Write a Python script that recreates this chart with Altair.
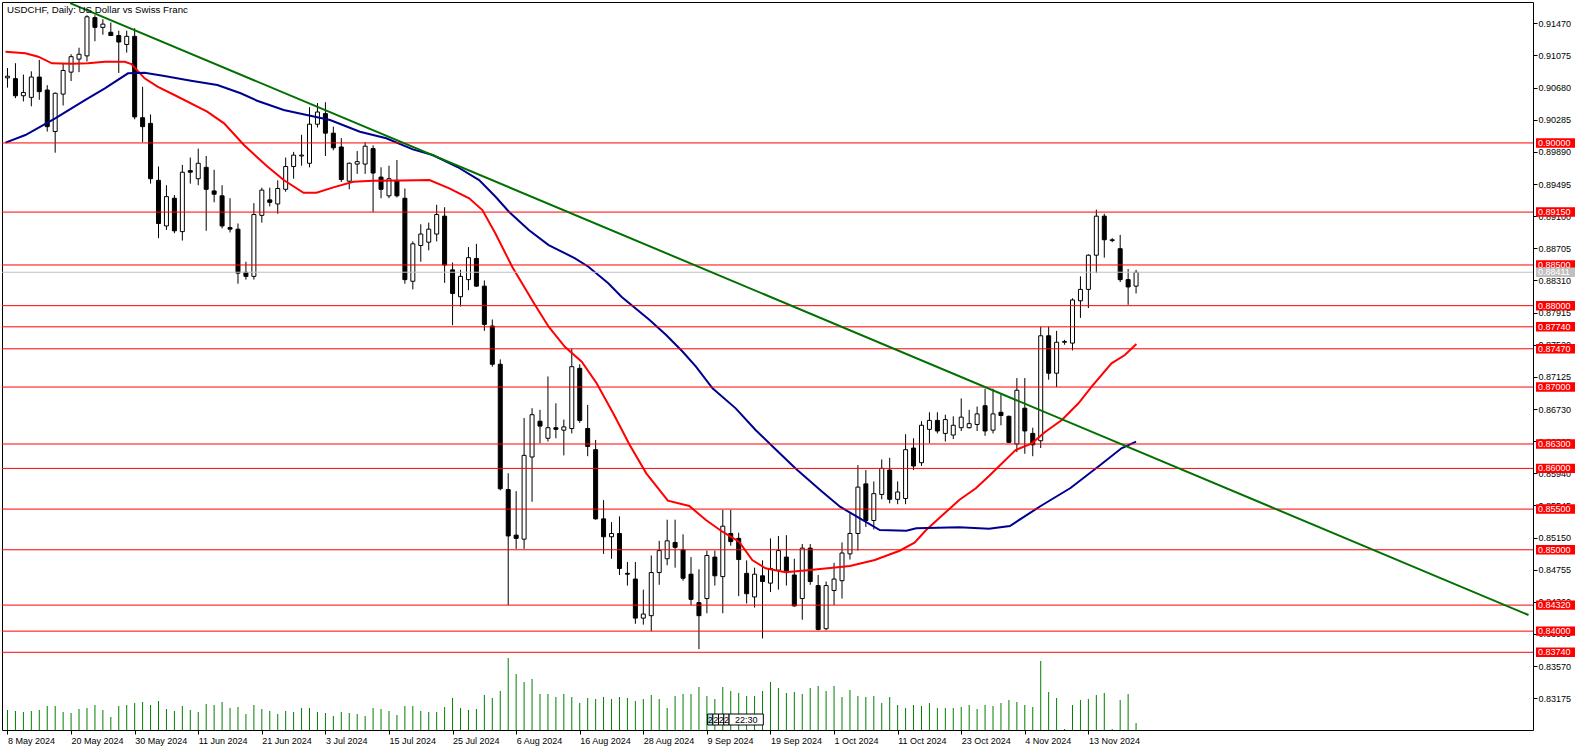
import json
import altair as alt
import pandas as pd

FONT = "Liberation Sans"

# ---- data ----
title_text = "USDCHF, Daily:  US Dollar vs Swiss Franc"

date_labels = ["8 May 2024", "20 May 2024", "30 May 2024", "11 Jun 2024", "21 Jun 2024",
               "3 Jul 2024", "15 Jul 2024", "25 Jul 2024", "6 Aug 2024", "16 Aug 2024",
               "28 Aug 2024", "9 Sep 2024", "19 Sep 2024", "1 Oct 2024", "11 Oct 2024",
               "23 Oct 2024", "4 Nov 2024", "13 Nov 2024"]

opens = [0.9080, 0.9079, 0.9058, 0.9056, 0.9081, 0.9065, 0.9014, 0.9060, 0.9087, 0.9103,
         0.9107, 0.9154, 0.9142, 0.9136, 0.9132, 0.9121, 0.9131, 0.9031, 0.9024, 0.8954,
         0.8898, 0.8932, 0.8891, 0.8966, 0.8956, 0.8970, 0.8941, 0.8935, 0.8896, 0.8894,
         0.8841, 0.8836, 0.8911, 0.8930, 0.8925, 0.8943, 0.8971, 0.8984, 0.8975, 0.9023,
         0.9036, 0.9012, 0.8995, 0.8953, 0.8974, 0.8974, 0.8993, 0.8958, 0.8935, 0.8954,
         0.8932, 0.8830, 0.8874, 0.8878, 0.8888, 0.8910, 0.8844, 0.8811, 0.8832, 0.8858,
         0.8824, 0.8775, 0.8728, 0.8574, 0.8518, 0.8513, 0.8614, 0.8658, 0.8637, 0.8650,
         0.8647, 0.8649, 0.8723, 0.8649, 0.8623, 0.8538, 0.8516, 0.8520, 0.8471, 0.8464,
         0.8416, 0.8419, 0.8472, 0.8489, 0.8509, 0.8500, 0.8470, 0.8435, 0.8440, 0.8491,
         0.8467, 0.8520, 0.8514, 0.8471, 0.8442, 0.8468, 0.8459, 0.8475, 0.8491, 0.8469,
         0.8440, 0.8502, 0.8456, 0.8403, 0.8450, 0.8462, 0.8495, 0.8520, 0.8581, 0.8536,
         0.8568, 0.8598, 0.8562, 0.8563, 0.8625, 0.8607, 0.8648, 0.8659, 0.8643, 0.8641,
         0.8650, 0.8650, 0.8654, 0.8677, 0.8647, 0.8669, 0.8664, 0.8630, 0.8674, 0.8643,
         0.8634, 0.8763, 0.8717, 0.8755, 0.8754, 0.8806, 0.8820, 0.8862, 0.8910, 0.8880,
         0.8870, 0.8832, 0.8824]

highs = [0.9092, 0.9098, 0.9084, 0.9088, 0.9102, 0.9071, 0.9062, 0.9097, 0.9109, 0.9117,
         0.9157, 0.9157, 0.9152, 0.9148, 0.9138, 0.9138, 0.9141, 0.9069, 0.9035, 0.8971,
         0.8948, 0.8936, 0.8973, 0.8982, 0.8993, 0.8984, 0.8967, 0.8948, 0.8932, 0.8901,
         0.8854, 0.8926, 0.8945, 0.8945, 0.8954, 0.8982, 0.8989, 0.9010, 0.9044, 0.9049,
         0.9050, 0.9020, 0.9006, 0.8976, 0.8990, 0.9001, 0.8997, 0.8970, 0.8972, 0.8979,
         0.8944, 0.8879, 0.8900, 0.8902, 0.8924, 0.8921, 0.8853, 0.8844, 0.8872, 0.8876,
         0.8831, 0.8783, 0.8734, 0.8594, 0.8572, 0.8662, 0.8674, 0.8672, 0.8713, 0.8680,
         0.8660, 0.8747, 0.8728, 0.8678, 0.8635, 0.8561, 0.8534, 0.8541, 0.8485, 0.8485,
         0.8451, 0.8493, 0.8511, 0.8537, 0.8537, 0.8519, 0.8491, 0.8476, 0.8499, 0.8499,
         0.8549, 0.8549, 0.8521, 0.8487, 0.8478, 0.8487, 0.8514, 0.8517, 0.8518, 0.8489,
         0.8507, 0.8507, 0.8469, 0.8461, 0.8484, 0.8509, 0.8545, 0.8604, 0.8598, 0.8584,
         0.8611, 0.8613, 0.8584, 0.8642, 0.8637, 0.8658, 0.8669, 0.8669, 0.8666, 0.8664,
         0.8686, 0.8672, 0.8676, 0.8698, 0.8698, 0.8691, 0.8665, 0.8711, 0.8711, 0.8650,
         0.8774, 0.8774, 0.8769, 0.8758, 0.8809, 0.8836, 0.8863, 0.8918, 0.8913, 0.8883,
         0.8887, 0.8845, 0.8844]

lows = [0.9068, 0.9055, 0.9051, 0.9045, 0.9053, 0.9014, 0.8988, 0.9046, 0.9076, 0.9087,
        0.9100, 0.9125, 0.9133, 0.9132, 0.9086, 0.9111, 0.9029, 0.9001, 0.8950, 0.8883,
        0.8893, 0.8889, 0.8880, 0.8950, 0.8948, 0.8892, 0.8927, 0.8895, 0.8890, 0.8827,
        0.8832, 0.8832, 0.8902, 0.8922, 0.8913, 0.8940, 0.8956, 0.8972, 0.8970, 0.9019,
        0.8984, 0.8991, 0.8952, 0.8943, 0.8962, 0.8962, 0.8915, 0.8932, 0.8932, 0.8933,
        0.8827, 0.8820, 0.8854, 0.8868, 0.8879, 0.8828, 0.8776, 0.8799, 0.8819, 0.8823,
        0.8769, 0.8725, 0.8573, 0.8432, 0.8501, 0.8501, 0.8559, 0.8631, 0.8633, 0.8637,
        0.8616, 0.8643, 0.8656, 0.8615, 0.8537, 0.8495, 0.8489, 0.8469, 0.8456, 0.8409,
        0.8408, 0.8400, 0.8457, 0.8481, 0.8478, 0.8462, 0.8432, 0.8378, 0.8422, 0.8456,
        0.8422, 0.8505, 0.8443, 0.8434, 0.8429, 0.8391, 0.8448, 0.8451, 0.8456, 0.8430,
        0.8414, 0.8457, 0.8401, 0.8401, 0.8432, 0.8440, 0.8488, 0.8499, 0.8528, 0.8525,
        0.8562, 0.8557, 0.8556, 0.8556, 0.8598, 0.8603, 0.8631, 0.8643, 0.8633, 0.8636,
        0.8646, 0.8649, 0.8646, 0.8640, 0.8643, 0.8653, 0.8631, 0.8620, 0.8618, 0.8615,
        0.8625, 0.8709, 0.8700, 0.8752, 0.8745, 0.8785, 0.8797, 0.8840, 0.8859, 0.8878,
        0.8829, 0.8801, 0.8815]

closes = [0.9082, 0.9058, 0.9062, 0.9081, 0.9063, 0.9020, 0.9061, 0.9089, 0.9106, 0.9109,
          0.9155, 0.9142, 0.9146, 0.9132, 0.9124, 0.9131, 0.9032, 0.9020, 0.8956, 0.8901,
          0.8934, 0.8892, 0.8964, 0.8964, 0.8975, 0.8943, 0.8937, 0.8898, 0.8894, 0.8840,
          0.8836, 0.8912, 0.8942, 0.8927, 0.8944, 0.8971, 0.8985, 0.8985, 0.9023, 0.9038,
          0.9012, 0.8994, 0.8955, 0.8975, 0.8977, 0.8996, 0.8963, 0.8943, 0.8956, 0.8935,
          0.8832, 0.8876, 0.8888, 0.8894, 0.8912, 0.8850, 0.8815, 0.8836, 0.8859, 0.8824,
          0.8777, 0.8728, 0.8575, 0.8517, 0.8514, 0.8616, 0.8666, 0.8652, 0.8650, 0.8648,
          0.8651, 0.8725, 0.8659, 0.8627, 0.8538, 0.8516, 0.8520, 0.8477, 0.8470, 0.8416,
          0.8421, 0.8472, 0.8499, 0.8511, 0.8503, 0.8465, 0.8439, 0.8419, 0.8493, 0.8468,
          0.8529, 0.8510, 0.8488, 0.8446, 0.8470, 0.8461, 0.8477, 0.8499, 0.8474, 0.8431,
          0.8502, 0.8461, 0.8402, 0.8456, 0.8464, 0.8496, 0.8520, 0.8577, 0.8536, 0.8569,
          0.8600, 0.8562, 0.8571, 0.8623, 0.8603, 0.8653, 0.8659, 0.8646, 0.8660, 0.8653,
          0.8663, 0.8655, 0.8667, 0.8646, 0.8667, 0.8665, 0.8632, 0.8696, 0.8646, 0.8629,
          0.8763, 0.8717, 0.8755, 0.8756, 0.8807, 0.8820, 0.8862, 0.8910, 0.8881, 0.8881,
          0.8832, 0.8823, 0.8841]

# tick volume, thousands
volumes = [20, 19, 18, 19, 20, 24, 24, 18, 17, 21,
           22, 25, 20, 13, 24, 25, 27, 28, 25, 29,
           21, 19, 24, 20, 18, 26, 25, 28, 22, 23,
           16, 25, 21, 19, 16, 19, 18, 22, 22, 18,
           17, 14, 18, 17, 16, 14, 22, 21, 19, 15,
           24, 24, 19, 18, 18, 23, 32, 22, 20, 21,
           35, 32, 39, 72, 56, 48, 51, 36, 36, 33,
           36, 33, 27, 32, 31, 33, 31, 33, 32, 29,
           31, 35, 31, 22, 34, 36, 36, 43, 34, 31,
           43, 39, 37, 34, 34, 39, 48, 42, 37, 38,
           36, 42, 44, 39, 44, 33, 40, 34, 33, 34,
           27, 33, 25, 22, 25, 24, 27, 22, 22, 22,
           23, 25, 21, 25, 24, 27, 30, 28, 25, 23,
           69, 38, 32, 1, 25, 30, 31, 35, 37, 1,
           30, 36, 7]

# moving averages (bar index, price)
red_ma_idx = [-0.25, 2.25, 3.875, 5.59, 8.09, 10.125, 12.25, 14.75, 15.59, 17.25, 18.875, 21.0,
              25.125, 27.25, 29.75, 32.625, 34.75, 37.25, 38.875, 41.0, 43.5, 46.0, 49.75, 53.09,
              55.59, 58.09, 59.75, 61.375, 63.5, 66.375, 68.09, 70.125, 72.25, 74.125, 76.21,
              78.29, 80.375, 83.09, 85.79, 87.875, 89.96, 92.04, 93.71, 95.375, 97.875, 101.0,
              103.5, 106.0, 109.125, 112.25, 114.125, 115.59, 117.66, 119.75, 121.84, 123.5,
              126.84, 128.875, 130.59, 132.66, 134.75, 136.41, 138.91, 140.59, 142.04]
red_ma_val = [0.91121, 0.91101, 0.91060, 0.90978, 0.90973, 0.90978, 0.90998, 0.90998, 0.90970,
              0.90794, 0.90691, 0.90589, 0.90384, 0.90241, 0.89974, 0.89716, 0.89544, 0.89388,
              0.89388, 0.89454, 0.89523, 0.89536, 0.89538, 0.89544, 0.89442, 0.89319, 0.89175,
              0.88889, 0.88479, 0.88008, 0.87741, 0.87495, 0.87311, 0.87046, 0.86677, 0.86287,
              0.85939, 0.85603, 0.85538, 0.85365, 0.85222, 0.85099, 0.84874, 0.84772, 0.84723,
              0.84751, 0.84776, 0.84800, 0.84874, 0.84988, 0.85087, 0.85243, 0.85427, 0.85611,
              0.85755, 0.85906, 0.86226, 0.86308, 0.86451, 0.86595, 0.86800, 0.87004, 0.87291,
              0.87393, 0.87529]

blue_ma_idx = [-0.25, 2.25, 6.0, 9.75, 12.25, 15.16, 17.25, 19.75, 23.09, 26.41, 29.34, 31.41,
               34.75, 37.66, 40.59, 44.34, 47.66, 51.0, 53.5, 56.625, 59.34, 61.41, 63.09, 65.59,
               68.09, 71.41, 73.09, 75.59, 77.25, 80.79, 82.875, 84.96, 86.625, 88.71, 91.625,
               94.125, 96.21, 99.125, 102.25, 104.75, 107.25, 109.75, 113.09, 114.34, 119.75,
               123.5, 126.125, 130.0, 133.75, 137.5, 140.16, 142.0]
blue_ma_val = [0.90003, 0.90097, 0.90302, 0.90527, 0.90671, 0.90855, 0.90863, 0.90822, 0.90765,
               0.90712, 0.90610, 0.90519, 0.90404, 0.90343, 0.90282, 0.90138, 0.90057, 0.89921,
               0.89851, 0.89704, 0.89544, 0.89339, 0.89155, 0.88930, 0.88745, 0.88582, 0.88479,
               0.88275, 0.88110, 0.87824, 0.87639, 0.87434, 0.87250, 0.86984, 0.86738, 0.86472,
               0.86275, 0.86001, 0.85734, 0.85529, 0.85386, 0.85243, 0.85234, 0.85264, 0.85276,
               0.85259, 0.85292, 0.85538, 0.85759, 0.86041, 0.86247, 0.86328]

trend_idx = [7.875, 191.375]
trend_val = [0.91719, 0.84198]

level_prices = [0.90000, 0.89150, 0.88500, 0.88000, 0.87740, 0.87470, 0.87000,
                0.86300, 0.86000, 0.85500, 0.85000, 0.84320, 0.84000, 0.83740]
bid_price = 0.88411

y_ticks = [0.91470, 0.91075, 0.90680, 0.90285, 0.89890, 0.89495, 0.89100, 0.88705,
           0.88310, 0.87915, 0.87520, 0.87125, 0.86730, 0.86335, 0.85940, 0.85545,
           0.85150, 0.84755, 0.84360, 0.83965, 0.83570, 0.83175]

sep_text = ["2", "2", "2", "2", "22:30"]
sep_from = [88.09, 88.75, 89.46, 90.125, 90.79]
sep_to = [88.75, 89.46, 90.125, 90.79, 95.1]
sep_fill = ["#B0E8F0", "white", "white", "white", "white"]

# ---- frames ----
n = len(opens)
df = pd.DataFrame({"i": list(range(n)), "o": opens, "h": highs, "l": lows,
                   "c": closes, "v": volumes})
df["top"] = df[["o", "c"]].max(axis=1)
df["bot"] = df[["o", "c"]].min(axis=1)
df["bull"] = df["c"] >= df["o"]

red_df = pd.DataFrame({"i": red_ma_idx, "p": red_ma_val})
blue_df = pd.DataFrame({"i": blue_ma_idx, "p": blue_ma_val})
trend_df = pd.DataFrame({"i": trend_idx, "p": trend_val})

lab_rows = [{"p": p, "t": f"{p:.5f}", "col": "#FF0000"} for p in level_prices]
lab_rows.append({"p": bid_price, "t": f"{bid_price:.5f}", "col": "#C0C0C0"})
lab_df = pd.DataFrame(lab_rows)
half_h = 0.00058
lab_df["hi"] = lab_df["p"] + half_h
lab_df["lo"] = lab_df["p"] - half_h

sep_df = pd.DataFrame({"a": sep_from, "b": sep_to, "t": sep_text, "f": sep_fill})
sep_df["m"] = (sep_df["a"] + sep_df["b"]) / 2

xs = alt.Scale(domain=[-0.0625, 191.3125], nice=False, zero=False)
ys = alt.Scale(domain=[0.82785, 0.91732], nice=False, zero=False)

x_axis = alt.Axis(values=list(range(0, 8 * len(date_labels), 8)),
                  labelExpr=json.dumps(date_labels) + "[round(datum.value/8)]",
                  labelAlign="left", labelBaseline="top", labelPadding=2,
                  tickSize=4, tickColor="black", domain=False, grid=False,
                  labelFont=FONT, labelFontSize=9, labelColor="black",
                  labelFlush=False, labelOverlap=False, title=None)
y_axis = alt.Axis(orient="right", values=y_ticks, format=".5f", tickSize=4,
                  tickColor="black", domain=False, grid=False, labelPadding=1,
                  labelFont=FONT, labelFontSize=9, labelColor="black",
                  labelFlush=False, labelOverlap=False, title=None)


def XQ(field):
    return alt.X(field, scale=xs, axis=x_axis, title=None)


def YQ(field):
    return alt.Y(field, scale=ys, axis=y_axis, title=None)


vol = alt.Chart(df).mark_rule(color="#008000", strokeWidth=1).encode(
    x=XQ("i:Q"),
    y=alt.Y("v:Q", scale=alt.Scale(domain=[0, 728], nice=False, zero=True), axis=None),
    y2=alt.datum(0),
)

wick = alt.Chart(df).mark_rule(color="black", strokeWidth=1).encode(
    x=XQ("i:Q"), y=YQ("l:Q"), y2="h:Q")

body = alt.Chart(df).mark_bar(size=4, stroke="black", strokeWidth=1).encode(
    x=XQ("i:Q"), y=YQ("bot:Q"), y2="top:Q",
    fill=alt.condition("datum.bull", alt.value("white"), alt.value("black")))

red_line = alt.Chart(red_df).mark_line(color="#FF0000", strokeWidth=2, clip=True).encode(
    x=XQ("i:Q"), y=YQ("p:Q"), order="i:Q")
blue_line = alt.Chart(blue_df).mark_line(color="#000090", strokeWidth=2, clip=True).encode(
    x=XQ("i:Q"), y=YQ("p:Q"), order="i:Q")

levels = alt.Chart(pd.DataFrame({"p": level_prices})).mark_rule(
    color="#FF0000", strokeWidth=1).encode(y=YQ("p:Q"))
bid = alt.Chart(pd.DataFrame({"p": [bid_price]})).mark_rule(
    color="#C0C0C0", strokeWidth=1).encode(y=YQ("p:Q"))

trend = alt.Chart(trend_df).mark_line(color="#007000", strokeWidth=2, clip=True).encode(
    x=XQ("i:Q"), y=YQ("p:Q"))

lab_box = alt.Chart(lab_df).mark_rect().encode(
    x=alt.value(1534), x2=alt.value(1573),
    y=YQ("hi:Q"), y2="lo:Q",
    color=alt.Color("col:N", scale=None))
lab_txt = alt.Chart(lab_df).mark_text(align="left", baseline="middle", color="white",
                                       font=FONT, fontSize=9).encode(
    x=alt.value(1536), y=YQ("p:Q"), text="t:N")

sep_box = alt.Chart(sep_df).mark_rect(stroke="black", strokeWidth=1).encode(
    x=XQ("a:Q"), x2="b:Q",
    y=alt.value(712), y2=alt.value(723), color=alt.Color("f:N", scale=None))
sep_txt = alt.Chart(sep_df).mark_text(align="center", baseline="middle", color="black",
                                       font=FONT, fontSize=9).encode(
    x=XQ("m:Q"), y=alt.value(718), text="t:N")

title = alt.Chart(pd.DataFrame({"t": [title_text]})).mark_text(
    align="left", baseline="middle", color="black", font=FONT, fontSize=9.7).encode(
    x=alt.value(5), y=alt.value(8), text="t:N")

price_layers = alt.layer(wick, body, red_line, blue_line, levels, bid, trend,
                         lab_box, lab_txt)

chart = alt.layer(vol, sep_box, sep_txt, price_layers, title).resolve_scale(
    y="independent").properties(
    width=1531, height=728,
    padding={"left": 2, "top": 2, "right": 53, "bottom": 21},
    autosize=alt.AutoSizeParams(type="none"),
    background="white",
).configure_view(stroke="black", strokeWidth=1)

chart.save("out.html", embed_options={"renderer": "svg", "actions": False})
